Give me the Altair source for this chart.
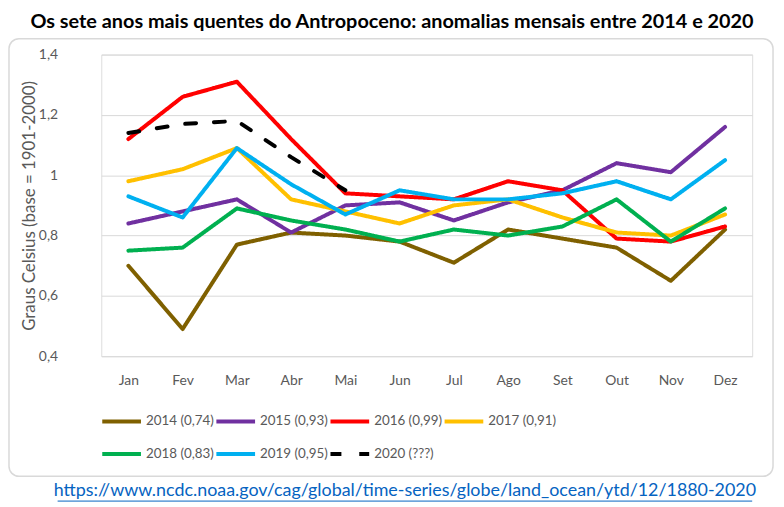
import altair as alt
import pandas as pd

months = ["Jan", "Fev", "Mar", "Abr", "Mai", "Jun", "Jul", "Ago", "Set", "Out", "Nov", "Dez"]
series = ["2014 (0,74)", "2015 (0,93)", "2016 (0,99)", "2017 (0,91)",
          "2018 (0,83)", "2019 (0,95)", "2020 (???)"]
colors = ["#7F6000", "#7030A0", "#FF0000", "#FFC000", "#00B050", "#00B0F0", "#000000"]
dashes = [[1, 0], [1, 0], [1, 0], [1, 0], [1, 0], [1, 0], [11, 18]]

v2014 = [0.70, 0.49, 0.77, 0.81, 0.80, 0.78, 0.71, 0.82, 0.79, 0.76, 0.65, 0.82]
v2015 = [0.84, 0.88, 0.92, 0.81, 0.90, 0.91, 0.85, 0.91, 0.95, 1.04, 1.01, 1.16]
v2016 = [1.12, 1.26, 1.31, 1.12, 0.94, 0.93, 0.92, 0.98, 0.95, 0.79, 0.78, 0.83]
v2017 = [0.98, 1.02, 1.09, 0.92, 0.88, 0.84, 0.90, 0.92, 0.86, 0.81, 0.80, 0.87]
v2018 = [0.75, 0.76, 0.89, 0.85, 0.82, 0.78, 0.82, 0.80, 0.83, 0.92, 0.78, 0.89]
v2019 = [0.93, 0.86, 1.09, 0.97, 0.87, 0.95, 0.92, 0.92, 0.94, 0.98, 0.92, 1.05]
v2020 = [1.14, 1.17, 1.18, 1.06, 0.95]

y_ticks = [0.4, 0.6, 0.8, 1.0, 1.2, 1.4]

title_text = "Os sete anos mais quentes do Antropoceno: anomalias mensais entre 2014 e 2020"
source_text = "https://www.ncdc.noaa.gov/cag/global/time-series/globe/land_ocean/ytd/12/1880-2020"
y_title = "Graus Celsius (base = 1901-2000)"

rows = []
for name, vals in zip(series, [v2014, v2015, v2016, v2017, v2018, v2019, v2020]):
    for m, v in zip(months, vals):
        rows.append({"mes": m, "serie": name, "valor": v})
df = pd.DataFrame(rows)

FONT = "Lato"
GREY = "#595959"

legend = alt.Legend(
    title=None, orient="none", legendX=-1, legendY=348, direction="horizontal",
    columns=4, symbolType="stroke", symbolSize=1521, symbolStrokeWidth=4,
    labelFont=FONT, labelFontSize=13.5, labelColor=GREY, labelOffset=3,
    columnPadding=-10, rowPadding=3,
)

lines = alt.Chart(df).mark_line(strokeWidth=4, strokeJoin="round", strokeCap="round").encode(
    x=alt.X("mes:N", sort=months, scale=alt.Scale(type="point", padding=0.5),
            axis=alt.Axis(title=None, domain=False, ticks=False, grid=False,
                          labelFont=FONT, labelFontSize=14, labelColor=GREY,
                          labelPadding=17, labelAngle=0)),
    y=alt.Y("valor:Q", scale=alt.Scale(domain=[0.4, 1.4], nice=False, zero=False),
            axis=alt.Axis(values=y_ticks, title=y_title, domain=False, ticks=False,
                          grid=True, gridColor="#D9D9D9", gridWidth=1,
                          labelFont=FONT, labelFontSize=14, labelColor=GREY,
                          labelPadding=44,
                          labelExpr="replace(format(datum.value, '.1~f'), '.', ',')",
                          titleFont=FONT, titleFontSize=17, titleColor=GREY,
                          titleFontWeight="normal", titlePadding=0)),
    color=alt.Color("serie:N", sort=series, scale=alt.Scale(domain=series, range=colors),
                    legend=legend),
    strokeDash=alt.StrokeDash("serie:N", sort=series, scale=alt.Scale(domain=series, range=dashes),
                              legend=legend),
    order=alt.Order("mes_idx:Q"),
).transform_calculate(
    mes_idx="indexof(" + str(months) + ", datum.mes)"
)

title_df = pd.DataFrame({"t": [title_text]})
title = alt.Chart(title_df).mark_text(
    font=FONT, fontSize=20, fontWeight="bold", color="#000000",
    align="center", baseline="middle"
).encode(text="t:N", x=alt.value(293), y=alt.value(-33))

src_df = pd.DataFrame({"t": [source_text]})
source = alt.Chart(src_df).mark_text(
    font=FONT, fontSize=18, color="#0563C1", align="center", baseline="middle"
).encode(text="t:N", x=alt.value(306), y=alt.value(440))

underline = alt.Chart(src_df).mark_rule(color="#0563C1", strokeWidth=1).encode(
    x=alt.value(-44), x2=alt.value(656), y=alt.value(450)
)

frame = alt.Chart(src_df).mark_rect(
    fill=None, stroke="#D9D9D9", strokeWidth=1.5, cornerRadius=10
).encode(x=alt.value(-93), x2=alt.value(677), y=alt.value(-16), y2=alt.value(425))

chart = alt.layer(frame, lines, title, source, underline).properties(
    width=656, height=304,
    padding={"left": 94, "top": 45, "right": 24, "bottom": 148},
    autosize=alt.AutoSizeParams(type="none"),
).configure_view(stroke=None).configure(background="white")

chart.save("out.html", embed_options={"renderer": "svg", "actions": False})
